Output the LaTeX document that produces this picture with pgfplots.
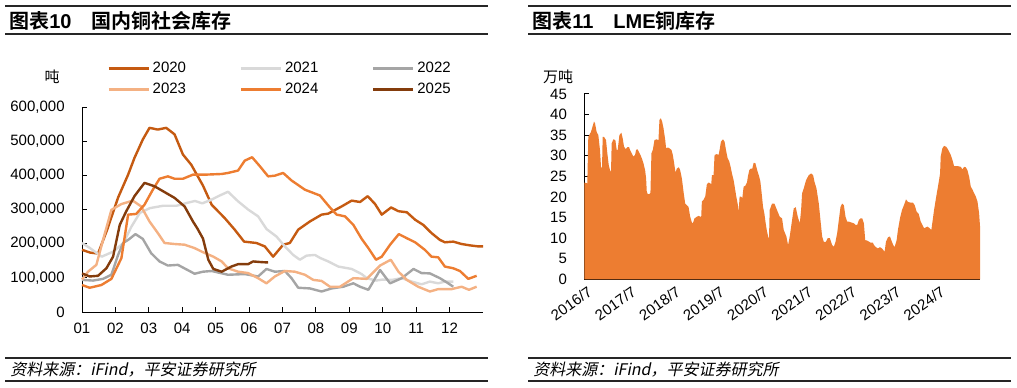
\documentclass[border=0pt]{standalone}
\usepackage{fontspec}
\setmainfont{Liberation Sans}
\newfontfamily\cjk{Noto Sans CJK SC}[BoldFont={Noto Sans CJK SC Bold}]
\newfontfamily\cjkit{Noto Sans CJK SC}[FakeSlant=0.2]
\usepackage{pgfplots}
\pgfplotsset{compat=1.18}
\definecolor{c20}{HTML}{C55A11}
\definecolor{c21}{HTML}{D9D9D9}
\definecolor{c22}{HTML}{A5A5A5}
\definecolor{c23}{HTML}{F4B183}
\definecolor{c24}{HTML}{ED7D31}
\definecolor{c25}{HTML}{843C0C}
\definecolor{lme}{HTML}{ED7D31}
\definecolor{rulec}{HTML}{262626}
\pgfplotsset{
  common/.style={
    scale only axis,
    axis lines*=left,
    axis line style={line width=0.75pt, black},
    tick style={black, line width=0.75pt},
    tick align=inside,
    major tick length=3.5pt,
    every tick label/.append style={font=\fontsize{11.25}{13}\selectfont, black},
    yticklabel style={xshift=-9.5pt},
    clip=false,
  }
}
\begin{document}
\begin{tikzpicture}[x=0.75pt,y=0.75pt]
\path[use as bounding box] (0,0) rectangle (1017,387);
% ---------- left panel frame ----------
\draw[rulec, line width=1.5pt] (5,381) -- (488,381);
\draw[rulec, line width=1pt] (5,353) -- (488,353);
\node[anchor=west, inner sep=0pt] at (9,366) {\fontsize{15}{17}\selectfont\bfseries{\cjk 图表}10\hspace{15pt}{\cjk 国内铜社会库存}};
\draw[rulec, line width=0.9pt] (5,29) -- (488,29);
\draw[rulec, line width=0.9pt] (5,6) -- (488,6);
\node[anchor=west, inner sep=0pt] at (10,17) {\fontsize{12}{14}\selectfont\cjkit 资料来源：iFind，平安证券研究所};
\node[inner sep=0pt] at (52,310) {\fontsize{11.25}{13}\selectfont\cjk 吨};
% ---------- right panel frame ----------
\draw[rulec, line width=1.5pt] (528,381) -- (1011,381);
\draw[rulec, line width=1pt] (528,353) -- (1011,353);
\node[anchor=west, inner sep=0pt] at (532,366) {\fontsize{15}{17}\selectfont\bfseries{\cjk 图表}11\hspace{15pt}LME{\cjk 铜库存}};
\draw[rulec, line width=0.9pt] (528,29) -- (1011,29);
\draw[rulec, line width=0.9pt] (528,6) -- (1011,6);
\node[anchor=west, inner sep=0pt] at (533,17) {\fontsize{12}{14}\selectfont\cjkit 资料来源：iFind，平安证券研究所};
\node[inner sep=0pt] at (558,310) {\fontsize{11.25}{13}\selectfont\cjk 万吨};

% ---------- left axis ----------
\begin{axis}[common,
  at={(61.5pt,56.25pt)}, anchor=south west,
  width=300.75pt, height=153.75pt,
  xmin=0, xmax=12, ymin=0, ymax=600,
  xtick={0,...,11},
  xticklabels={01,02,03,04,05,06,07,08,09,10,11,12},
  xticklabel style={yshift=-5pt},
  ytick={0,100,...,600},
  yticklabels={0,{100,000},{200,000},{300,000},{400,000},{500,000},{600,000}},
  legend columns=3,
  legend style={draw=none, fill=none, at={(axis description cs:0.062,1.137)}, anchor=west,
    inner sep=0pt, font=\fontsize{11.25}{13}\selectfont, row sep=2pt,
    /tikz/every even column/.append style={column sep=38pt}},
  legend cell align=left,
  legend image code/.code={\draw[#1, line width=2.2pt] (0pt,0pt) -- (30pt,0pt);},
  every axis plot/.append style={line width=1.8pt, line join=round},
]
\addplot[c20] coordinates {(0,182) (0.24,174) (0.48,171) (0.75,240) (1.08,335) (1.38,402) (1.57,451) (1.82,505) (2.02,539) (2.27,534) (2.52,539) (2.77,520) (3.02,461) (3.27,431) (3.62,370) (3.88,314) (4.27,275) (4.57,241) (4.85,206) (5.22,202) (5.47,192) (5.72,162) (6.02,197) (6.22,202) (6.47,241) (6.82,265) (7.17,285) (7.37,288) (7.77,309) (8.07,326) (8.32,322) (8.55,339) (8.77,316) (8.97,285) (9.25,306) (9.47,295) (9.72,292) (9.97,270) (10.21,255) (10.46,231) (10.71,211) (10.86,204) (11.11,206) (11.36,199) (11.61,195) (11.86,192) (12.0,192)};
\addlegendentry{2020}
\addplot[c21] coordinates {(0,202) (0.24,187) (0.59,162) (0.94,177) (1.24,202) (1.48,250) (1.73,290) (2.03,304) (2.43,311) (2.83,311) (3.13,319) (3.38,325) (3.6,318) (3.88,329) (4.1,340) (4.37,352) (4.67,324) (4.97,300) (5.27,280) (5.52,243) (5.82,221) (6.07,192) (6.32,167) (6.52,153) (6.72,165) (6.97,167) (7.13,158) (7.37,148) (7.67,133) (8.07,126) (8.37,111) (8.52,99) (8.8,92) (9.0,95) (9.27,94) (9.57,99) (9.87,89) (10.16,81) (10.41,89) (10.66,84) (10.86,89) (11.11,89)};
\addlegendentry{2021}
\addplot[c22] coordinates {(0,94) (0.33,92) (0.63,97) (0.88,109) (1.08,167) (1.23,202) (1.38,211) (1.60,228) (1.82,214) (2.07,172) (2.32,148) (2.57,136) (2.87,138) (3.12,125) (3.37,112) (3.62,118) (3.88,120) (4.37,109) (4.87,111) (5.27,104) (5.52,126) (5.77,118) (6.07,120) (6.27,99) (6.47,71) (6.82,69) (7.17,60) (7.47,69) (7.82,74) (8.12,84) (8.32,74) (8.57,65) (8.92,123) (9.22,84) (9.57,99) (9.92,126) (10.16,114) (10.41,113) (10.71,99) (10.96,84) (11.11,74)};
\addlegendentry{2022}
\addplot[c23] coordinates {(0,95) (0.18,118) (0.43,138) (0.63,211) (0.88,299) (1.18,316) (1.52,326) (1.77,309) (2.02,265) (2.27,231) (2.47,202) (2.77,199) (3.07,197) (3.37,187) (3.62,175) (3.93,162) (4.18,148) (4.37,128) (4.67,118) (4.97,114) (5.27,99) (5.52,84) (5.77,104) (6.07,120) (6.37,118) (6.67,109) (6.92,94) (7.17,91) (7.42,74) (7.72,74) (8.12,99) (8.52,97) (8.92,136) (9.24,153) (9.47,118) (9.72,94) (10.06,74) (10.41,60) (10.66,67) (11.06,67) (11.36,74) (11.58,65) (11.81,74)};
\addlegendentry{2023}
\addplot[c24] coordinates {(0,79) (0.23,71) (0.58,79) (0.88,97) (1.18,158) (1.38,285) (1.62,287) (1.87,314) (2.12,358) (2.32,390) (2.57,397) (2.77,390) (3.02,390) (3.32,402) (3.68,402) (4.18,404) (4.37,407) (4.67,414) (4.87,443) (5.09,453) (5.32,427) (5.57,397) (5.77,399) (6.02,407) (6.27,385) (6.67,358) (7.12,341) (7.42,306) (7.62,285) (7.87,280) (8.12,255) (8.37,214) (8.57,187) (8.80,153) (8.97,162) (9.22,197) (9.48,228) (9.72,216) (9.97,204) (10.26,182) (10.46,162) (10.66,160) (10.86,133) (11.11,128) (11.31,120) (11.56,97) (11.81,106)};
\addlegendentry{2024}
\addplot[c25] coordinates {(0,113) (0.23,104) (0.48,106) (0.73,128) (0.93,162) (1.13,255) (1.32,294) (1.57,339) (1.87,378) (2.17,368) (2.47,351) (2.77,334) (3.07,309) (3.32,265) (3.45,245) (3.62,215) (3.78,153) (3.93,126) (4.18,118) (4.47,133) (4.67,140) (4.97,140) (5.12,148) (5.37,146) (5.57,145)};
\addlegendentry{2025}
\end{axis}

% ---------- right axis ----------
\begin{axis}[common,
  at={(438.225pt,80.775pt)}, anchor=south west,
  width=296.8pt, height=139pt,
  xmin=0, xmax=107.7, ymin=0, ymax=45,
  /pgf/number format/assume math mode=true,
  ytick={0,5,...,45},
  xtick={0,12,...,96},
  xticklabels={2016/7,2017/7,2018/7,2019/7,2020/7,2021/7,2022/7,2023/7,2024/7},
  xticklabel style={rotate=35, anchor=north east, inner sep=1pt, yshift=-4pt},
]
\addplot[fill=lme, draw=none] coordinates {(0,23.5) (0.82,23.3) (1.09,34.6) (1.82,35.8) (2.64,38.3) (2.91,37.9) (3.36,35.8) (3.82,35) (4.27,31.4) (4.55,27.3) (4.82,27) (5.0,34.6) (5.36,34.6) (5.91,33.8) (6.27,30.6) (6.64,27.8) (7.0,26.5) (7.27,26.1) (7.45,33) (7.91,34) (8.45,33.8) (8.82,31.4) (9.09,31.4) (9.55,35) (10.09,35.6) (10.45,34.2) (10.82,32.2) (11.27,31.6) (11.73,32.1) (12.18,32.1) (12.45,31.4) (13.36,29.8) (13.82,30.2) (14.09,31.4) (14.45,31.6) (14.82,31) (15.27,30.2) (15.73,29.2) (16.09,28.2) (16.55,26.5) (16.82,24.5) (17.0,21.3) (17.27,20.7) (17.73,20.7) (18.0,21) (18.27,30.6) (18.64,31.4) (19.09,33.8) (19.73,34) (20.18,33.7) (20.45,38.7) (20.82,39.1) (21.18,38.3) (21.55,36.7) (22.0,34) (22.27,31.8) (22.73,32) (23.18,31.8) (23.73,31.4) (24.09,30.2) (24.45,28.2) (24.82,25.9) (25.18,26.9) (25.73,27.2) (26.09,26.5) (26.55,24.5) (27.0,21.3) (27.45,18.4) (27.91,18) (28.36,17.6) (28.82,15.2) (29.27,13.8) (29.55,13.6) (30.0,14.8) (30.64,15.2) (31.09,15.4) (31.55,15.2) (31.82,15.2) (32.0,18.9) (32.45,19.3) (32.91,20.1) (33.36,23.1) (33.82,23.5) (34.27,23.3) (34.55,23.1) (34.73,25.3) (35.18,25.3) (35.45,30.2) (36.09,30.4) (36.55,30.2) (36.82,31.4) (37.18,33.4) (37.73,34) (38.18,33.4) (38.55,31.4) (39.0,29.4) (39.45,28.6) (39.82,27.3) (40.18,25.7) (40.64,24.1) (41.0,22.1) (41.36,20.1) (41.73,18.4) (42.0,16.4) (42.27,20.1) (42.64,20.1) (43.0,19.7) (43.36,22.5) (43.82,22.7) (44.27,23.5) (44.55,25.1) (44.91,26.5) (45.36,26.9) (45.73,26.9) (46.09,28.3) (46.55,28.2) (46.82,27.3) (47.18,26.1) (47.55,25.1) (47.91,23.8) (48.27,20.9) (48.64,17.6) (49.0,16) (49.36,13.6) (49.73,11.6) (50.09,10.2) (50.27,10) (50.45,16.8) (51.09,18.4) (51.73,18.4) (52.45,16.8) (53.18,15.2) (53.82,14.8) (54.27,12) (55.0,10.4) (55.45,8.3) (55.91,10.4) (56.55,14.4) (57.0,17.2) (57.55,17.5) (58.09,15.2) (58.64,13.6) (59.0,16.8) (59.27,20.9) (59.73,22.1) (60.36,24.1) (61.09,25.3) (61.73,25.7) (62.27,25.3) (62.64,23.7) (63.18,22.1) (63.82,18.4) (64.27,14.4) (64.73,10.4) (65.18,9.1) (65.73,9.1) (66.27,10) (66.82,10) (67.45,8.3) (67.91,7.9) (68.36,9.1) (68.82,11.2) (69.27,14.4) (69.73,17.6) (70.18,18.4) (70.64,18) (71.09,15.2) (71.55,14) (72.0,14) (72.64,13.8) (73.36,13.6) (73.82,13.2) (74.27,13.2) (74.73,14.4) (75.18,14.8) (75.64,14.8) (76.09,13.6) (76.45,9.5) (77.0,9.4) (77.91,8.9) (78.55,8.9) (78.82,8.3) (79.36,7.8) (79.91,7.5) (80.45,7.8) (81.0,7.5) (81.36,7.1) (81.73,6.7) (82.09,9.1) (82.64,10.2) (83.18,10.4) (83.55,9.5) (84.09,8.3) (84.45,7.8) (85.0,9.5) (85.36,12) (85.91,14.8) (86.45,16.8) (87.0,18) (87.55,19.4) (88.09,18.8) (88.82,18.6) (89.45,18.6) (89.91,18) (90.45,16.4) (91.0,15.9) (91.55,14) (92.0,13.2) (92.45,12.4) (92.91,12.6) (93.36,12.8) (94.0,12.4) (94.45,12) (94.82,14.4) (95.18,16.8) (95.64,19.3) (96.09,21.7) (96.55,24.1) (96.82,25.7) (97.0,29.8) (97.45,31.8) (97.91,32.4) (98.45,32.2) (98.82,31.8) (99.27,31) (99.73,30.2) (100.18,29) (100.64,27.5) (101.55,27.5) (102.45,27.3) (102.91,26.7) (103.36,27.3) (103.82,27.2) (104.27,26.5) (104.73,24.9) (105.18,22.5) (105.64,21.8) (106.09,20.9) (106.55,20.1) (107.0,18.9) (107.45,16) (107.7,12.8)} \closedcycle;
\end{axis}
\end{tikzpicture}
\end{document}
